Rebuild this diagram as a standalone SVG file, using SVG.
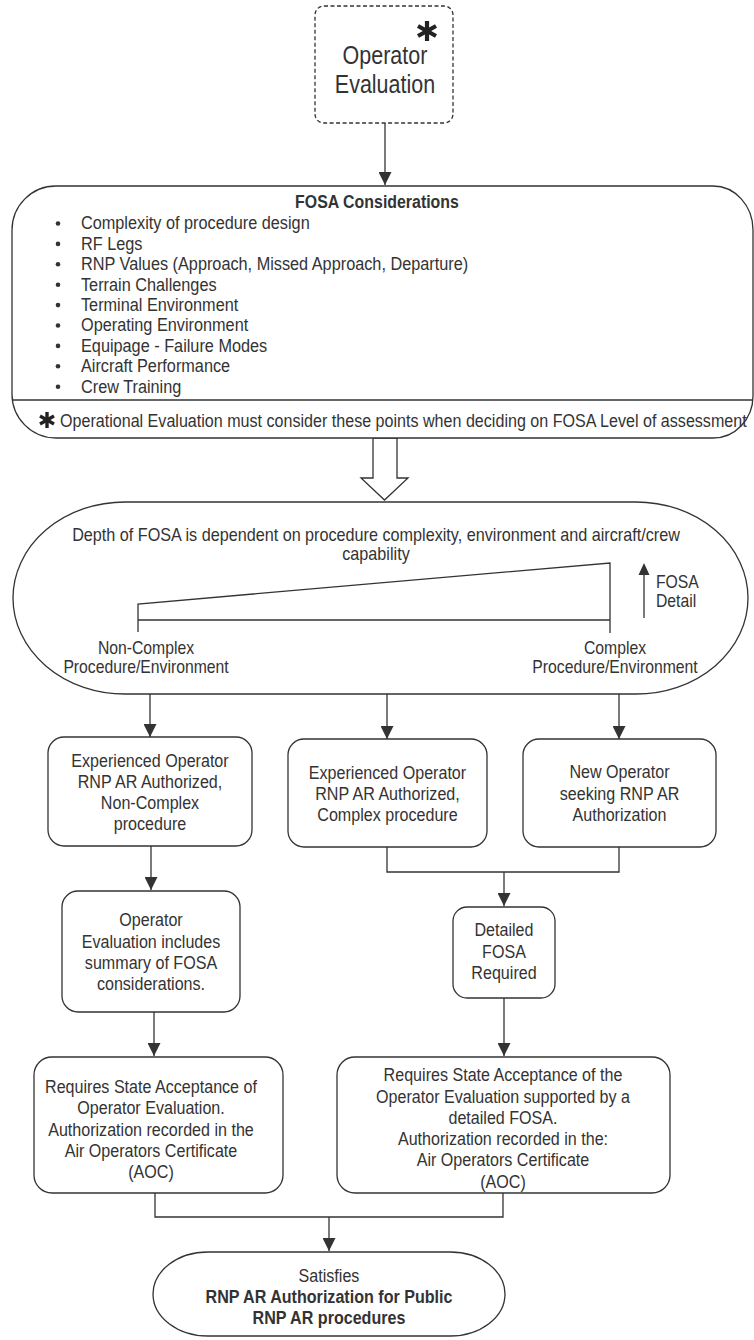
<svg xmlns="http://www.w3.org/2000/svg" width="754" height="1340" viewBox="0 0 754 1340">
<style>
.t{font-family:"Liberation Sans",Arial,sans-serif;font-size:18.5px;fill:#333;text-anchor:middle}
.l{text-anchor:start}
.b{font-weight:bold}
.s{font-size:17.5px}
.n{fill:#fff;stroke:#333;stroke-width:1.3}
.c{fill:none;stroke:#333;stroke-width:1.3}
.ast{stroke:#222;stroke-width:4.2;stroke-linecap:butt}
</style>
<defs>
<marker id="ah" markerUnits="userSpaceOnUse" markerWidth="14" markerHeight="13" refX="13" refY="6.5" orient="auto">
<path d="M0,0 L13,6.5 L0,13 Z" fill="#333"/>
</marker>
</defs>
<rect width="754" height="1340" fill="#fff"/>

<g id="connectors">
<line class="c" x1="385" y1="123" x2="385" y2="185" marker-end="url(#ah)"/>
<polygon class="n" points="373,438 397,438 397,478 408,478 384.5,500 361,478 373,478"/>
<line class="c" x1="150" y1="694" x2="150" y2="737" marker-end="url(#ah)"/>
<line class="c" x1="387" y1="694" x2="387" y2="739" marker-end="url(#ah)"/>
<line class="c" x1="619" y1="694" x2="619" y2="739" marker-end="url(#ah)"/>
<line class="c" x1="151" y1="846" x2="151" y2="890" marker-end="url(#ah)"/>
<path class="c" d="M387,847 V872 H619 V847"/>
<line class="c" x1="504" y1="872" x2="504" y2="906" marker-end="url(#ah)"/>
<line class="c" x1="504" y1="998" x2="504" y2="1056" marker-end="url(#ah)"/>
<line class="c" x1="154" y1="1012" x2="154" y2="1056" marker-end="url(#ah)"/>
<path class="c" d="M155,1193 V1217 H503 V1193"/>
<line class="c" x1="329" y1="1217" x2="329" y2="1251" marker-end="url(#ah)"/>
</g>

<g id="operator-evaluation">
<rect class="n" x="315" y="6" width="138" height="117" rx="9" stroke-dasharray="4 2.5"/>
<g class="ast"><line x1="427" y1="21" x2="427" y2="41"/><line x1="418" y1="26" x2="436" y2="36"/><line x1="418" y1="36" x2="436" y2="26"/></g>
<g transform="translate(385 0) scale(0.86 1) translate(-385 0)">
<text class="t" x="385" y="64" style="font-size:25px">Operator</text>
<text class="t" x="385" y="93" style="font-size:25px">Evaluation</text>
</g>
</g>

<g id="fosa-considerations">
<path class="n" d="M56,186 H713 A40,44 0 0 1 753,230 V396 A40,42 0 0 1 713,438 H56 A44,44 0 0 1 12,394 V230 A44,44 0 0 1 56,186 Z"/>
<line class="c" x1="12" y1="400" x2="753" y2="400"/>
<g transform="translate(377 0) scale(0.86 1) translate(-377 0)">
<text class="t b" x="377" y="208">FOSA Considerations</text>
</g>
<g fill="#333">
<circle cx="58" cy="223.5" r="2.3"/><circle cx="58" cy="243.9" r="2.3"/><circle cx="58" cy="264.3" r="2.3"/><circle cx="58" cy="284.7" r="2.3"/><circle cx="58" cy="305.1" r="2.3"/><circle cx="58" cy="325.5" r="2.3"/><circle cx="58" cy="345.9" r="2.3"/><circle cx="58" cy="366.3" r="2.3"/><circle cx="58" cy="386.7" r="2.3"/>
</g>
<g transform="translate(81 0) scale(0.88 1) translate(-81 0)">
<text class="t l" x="81" y="229.5">Complexity of procedure design</text>
<text class="t l" x="81" y="249.9">RF Legs</text>
<text class="t l" x="81" y="270.3">RNP Values (Approach, Missed Approach, Departure)</text>
<text class="t l" x="81" y="290.7">Terrain Challenges</text>
<text class="t l" x="81" y="311.1">Terminal Environment</text>
<text class="t l" x="81" y="331.5">Operating Environment</text>
<text class="t l" x="81" y="351.9">Equipage - Failure Modes</text>
<text class="t l" x="81" y="372.3">Aircraft Performance</text>
<text class="t l" x="81" y="392.7">Crew Training</text>
</g>
<g class="ast" style="stroke-width:3.4"><line x1="47" y1="412" x2="47" y2="428"/><line x1="40" y1="416" x2="54" y2="424"/><line x1="40" y1="424" x2="54" y2="416"/></g>
<g transform="translate(60 0) scale(0.87 1) translate(-60 0)">
<text class="t l" x="60" y="427">Operational Evaluation must consider these points when deciding on FOSA Level of assessment</text>
</g>
</g>

<g id="fosa-depth">
<rect class="n" x="13" y="502" width="735" height="192" rx="112" ry="96"/>
<g transform="translate(376 0) scale(0.875 1) translate(-376 0)">
<text class="t" x="376" y="541">Depth of FOSA is dependent on procedure complexity, environment and aircraft/crew</text>
<text class="t" x="376" y="560">capability</text>
</g>
<polyline class="c" points="138,632 138,604 610,563 610,633"/>
<line class="c" x1="138" y1="620" x2="610" y2="620"/>
<line class="c" x1="644" y1="618" x2="644" y2="574"/>
<polygon points="638.5,575 649.5,575 644,563" fill="#333"/>
<g transform="translate(656 0) scale(0.9 1) translate(-656 0)">
<text class="t l s" x="656" y="588">FOSA</text>
<text class="t l s" x="656" y="607.5">Detail</text>
</g>
<g transform="translate(146 0) scale(0.9 1) translate(-146 0)">
<text class="t s" x="146" y="654">Non-Complex</text>
<text class="t s" x="146" y="673.5">Procedure/Environment</text>
</g>
<g transform="translate(615 0) scale(0.9 1) translate(-615 0)">
<text class="t s" x="615" y="654">Complex</text>
<text class="t s" x="615" y="673.5">Procedure/Environment</text>
</g>
</g>

<g id="experienced-noncomplex">
<rect class="n" x="48" y="737" width="204" height="109" rx="16"/>
<g transform="translate(150 0) scale(0.87 1) translate(-150 0)">
<text class="t" x="150" y="767">Experienced Operator</text>
<text class="t" x="150" y="788">RNP AR Authorized,</text>
<text class="t" x="150" y="809">Non-Complex</text>
<text class="t" x="150" y="830">procedure</text>
</g>
</g>

<g id="experienced-complex">
<rect class="n" x="288" y="739" width="199" height="108" rx="16"/>
<g transform="translate(387.5 0) scale(0.87 1) translate(-387.5 0)">
<text class="t" x="387.5" y="779">Experienced Operator</text>
<text class="t" x="387.5" y="800">RNP AR Authorized,</text>
<text class="t" x="387.5" y="821">Complex procedure</text>
</g>
</g>

<g id="new-operator">
<rect class="n" x="523" y="739" width="193" height="108" rx="16"/>
<g transform="translate(619.5 0) scale(0.87 1) translate(-619.5 0)">
<text class="t" x="619.5" y="778">New Operator</text>
<text class="t" x="619.5" y="800">seeking RNP AR</text>
<text class="t" x="619.5" y="821">Authorization</text>
</g>
</g>

<g id="operator-evaluation-summary">
<rect class="n" x="62" y="891" width="178" height="121" rx="16"/>
<g transform="translate(151 0) scale(0.87 1) translate(-151 0)">
<text class="t" x="151" y="926">Operator</text>
<text class="t" x="151" y="948">Evaluation includes</text>
<text class="t" x="151" y="969">summary of FOSA</text>
<text class="t" x="151" y="990">considerations.</text>
</g>
</g>

<g id="detailed-fosa">
<rect class="n" x="453" y="907" width="102" height="91" rx="14"/>
<g transform="translate(504 0) scale(0.87 1) translate(-504 0)">
<text class="t" x="504" y="936">Detailed</text>
<text class="t" x="504" y="958">FOSA</text>
<text class="t" x="504" y="979">Required</text>
</g>
</g>

<g id="state-acceptance-left">
<rect class="n" x="34" y="1057" width="249" height="136" rx="18"/>
<g transform="translate(151 0) scale(0.87 1) translate(-151 0)">
<text class="t" x="151" y="1093">Requires State Acceptance of</text>
<text class="t" x="151" y="1114">Operator Evaluation.</text>
<text class="t" x="151" y="1136">Authorization recorded in the</text>
<text class="t" x="151" y="1157">Air Operators Certificate</text>
<text class="t" x="151" y="1178">(AOC)</text>
</g>
</g>

<g id="state-acceptance-right">
<rect class="n" x="337" y="1057" width="333" height="136" rx="18"/>
<g transform="translate(503 0) scale(0.87 1) translate(-503 0)">
<text class="t" x="503" y="1081">Requires State Acceptance of the</text>
<text class="t" x="503" y="1103">Operator Evaluation supported by a</text>
<text class="t" x="503" y="1124">detailed FOSA.</text>
<text class="t" x="503" y="1145">Authorization recorded in the:</text>
<text class="t" x="503" y="1166">Air Operators Certificate</text>
<text class="t" x="503" y="1188">(AOC)</text>
</g>
</g>

<g id="satisfies">
<rect class="n" x="153" y="1252" width="352" height="84" rx="55" ry="42"/>
<g transform="translate(329 0) scale(0.87 1) translate(-329 0)">
<text class="t" x="329" y="1282">Satisfies</text>
<text class="t b" x="329" y="1303">RNP AR Authorization for Public</text>
<text class="t b" x="329" y="1324">RNP AR procedures</text>
</g>
</g>
</svg>
